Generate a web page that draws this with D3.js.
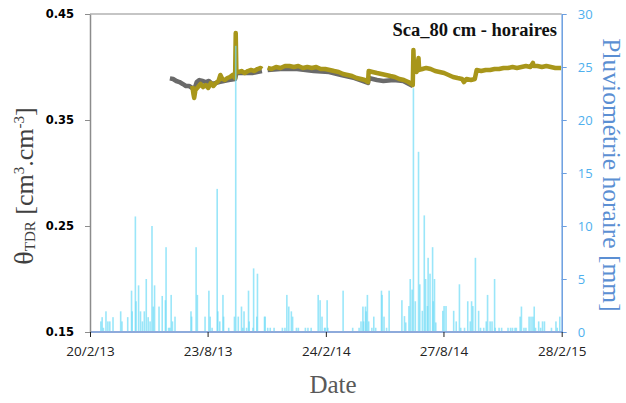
<!DOCTYPE html>
<html><head><meta charset="utf-8">
<script src="https://cdn.jsdelivr.net/npm/d3@7"></script>
<style>body{margin:0;background:#fff}svg{display:block}</style>
</head><body>
<svg id="c" width="626" height="403"></svg>
<script>
// ---- data ----
const xTickDates = ["2013-02-20","2013-08-23","2014-02-24","2014-08-27","2015-02-28"];
const yLeftTicks = [0.15,0.25,0.35,0.45];
const yRightTicks = [0,5,10,15,20,25,30];

const grayDates = ["2013-06-25","2013-06-30","2013-07-05","2013-07-10","2013-07-15","2013-07-20","2013-07-25","2013-07-30","2013-08-02","2013-08-06","2013-08-10","2013-08-15","2013-08-20","2013-08-25","2013-08-30","2013-09-10","2013-09-25","2013-10-05","2013-10-07","2013-10-15","2013-11-01","2013-11-16","2013-11-20","2013-11-25","2013-12-15","2014-01-10","2014-02-05","2014-03-01","2014-03-20","2014-04-10","2014-05-01","2014-05-02","2014-05-15","2014-05-25","2014-06-10","2014-06-25","2014-07-10"];
const grayValues = [0.3893,0.3887,0.3868,0.3858,0.3840,0.3821,0.3821,0.3802,0.3783,0.3858,0.3877,0.3868,0.3858,0.3868,0.3840,0.3858,0.3877,0.3887,0.3943,0.3943,0.3943,0.3962,null,0.3972,0.3981,0.3981,0.3962,0.3953,0.3925,0.3896,0.3849,0.3896,0.3877,0.3868,0.3877,0.3868,0.3821];

const oliveDates = ["2013-07-30","2013-08-01","2013-08-02","2013-08-04","2013-08-08","2013-08-12","2013-08-16","2013-08-20","2013-08-24","2013-08-28","2013-09-01","2013-09-05","2013-09-09","2013-09-12","2013-09-15","2013-09-19","2013-09-23","2013-09-27","2013-10-01","2013-10-05","2013-10-06","2013-10-07","2013-10-11","2013-10-15","2013-10-20","2013-10-25","2013-10-30","2013-11-04","2013-11-09","2013-11-14","2013-11-16","2013-11-20","2013-11-25","2013-12-01","2013-12-08","2013-12-15","2013-12-22","2013-12-29","2014-01-05","2014-01-12","2014-01-19","2014-01-26","2014-02-02","2014-02-09","2014-02-16","2014-02-23","2014-03-02","2014-03-09","2014-03-16","2014-03-23","2014-03-30","2014-04-06","2014-04-13","2014-04-20","2014-04-26","2014-05-01","2014-05-02","2014-05-08","2014-05-15","2014-05-22","2014-05-29","2014-06-05","2014-06-12","2014-06-19","2014-06-26","2014-07-03","2014-07-08","2014-07-10","2014-07-11","2014-07-12","2014-07-16","2014-07-19","2014-07-20","2014-07-25","2014-07-31","2014-08-07","2014-08-14","2014-08-21","2014-08-28","2014-09-04","2014-09-11","2014-09-18","2014-09-25","2014-09-28","2014-10-02","2014-10-09","2014-10-15","2014-10-18","2014-10-25","2014-11-01","2014-11-08","2014-11-15","2014-11-22","2014-11-29","2014-12-06","2014-12-13","2014-12-20","2014-12-27","2015-01-03","2015-01-10","2015-01-14","2015-01-15","2015-01-21","2015-01-28","2015-02-04","2015-02-11","2015-02-18","2015-02-27"];
const oliveValues = [0.3821,0.3740,0.3708,0.3783,0.3811,0.3840,0.3811,0.3830,0.3802,0.3849,0.3821,0.3849,0.3868,0.3925,0.3887,0.3877,0.3896,0.3906,0.3925,0.3896,0.4321,0.3953,0.3953,0.3962,0.3943,0.3962,0.3972,0.3962,0.3981,0.3991,0.3981,null,0.3991,0.3981,0.4000,0.3991,0.4009,0.4009,0.4000,0.4009,0.3991,0.4000,0.3991,0.4000,0.3981,0.3981,0.3972,0.3962,0.3953,0.3934,0.3925,0.3915,0.3896,0.3887,0.3877,0.3858,0.3962,0.3953,0.3943,0.3934,0.3925,0.3915,0.3906,0.3887,0.3877,0.3858,0.3840,0.3830,0.4160,0.3972,0.3953,0.4085,0.3972,0.3981,0.3991,0.3981,0.3962,0.3953,0.3943,0.3925,0.3906,0.3896,0.3887,0.3858,0.3887,0.3877,0.3887,0.3972,0.3962,0.3972,0.3972,0.3981,0.3981,0.3991,0.3991,0.4000,0.3991,0.4000,0.4009,0.4000,0.4038,0.4009,0.4009,0.4000,0.4009,0.4000,0.3991,0.3991];

const rainDates = ["2013-03-09","2013-03-11","2013-03-13","2013-03-17","2013-03-20","2013-03-23","2013-03-28","2013-04-09","2013-04-11","2013-04-20","2013-04-26","2013-04-27","2013-05-02","2013-05-03","2013-05-07","2013-05-10","2013-05-13","2013-05-16","2013-05-19","2013-05-22","2013-05-25","2013-05-28","2013-05-30","2013-06-01","2013-06-08","2013-06-13","2013-06-18","2013-06-19","2013-06-23","2013-06-25","2013-06-27","2013-06-29","2013-07-03","2013-07-28","2013-07-29","2013-08-05","2013-08-07","2013-08-19","2013-08-25","2013-08-27","2013-08-30","2013-09-07","2013-09-08","2013-09-11","2013-09-16","2013-09-17","2013-09-25","2013-10-04","2013-10-06","2013-10-10","2013-10-15","2013-10-17","2013-10-19","2013-10-23","2013-10-26","2013-10-27","2013-11-02","2013-11-03","2013-11-08","2013-11-09","2013-11-20","2013-11-21","2013-11-25","2013-11-29","2013-12-05","2013-12-18","2013-12-22","2013-12-25","2013-12-28","2014-01-01","2014-01-03","2014-01-09","2014-01-12","2014-01-23","2014-01-27","2014-02-01","2014-02-12","2014-02-15","2014-02-18","2014-02-22","2014-02-23","2014-02-26","2014-02-27","2014-03-23","2014-04-07","2014-04-17","2014-04-20","2014-04-23","2014-04-24","2014-04-27","2014-04-28","2014-04-30","2014-05-02","2014-05-07","2014-05-10","2014-05-13","2014-05-22","2014-05-23","2014-05-26","2014-05-30","2014-06-03","2014-06-23","2014-06-27","2014-06-29","2014-07-04","2014-07-06","2014-07-09","2014-07-11","2014-07-14","2014-07-19","2014-07-21","2014-07-25","2014-07-28","2014-07-30","2014-08-02","2014-08-03","2014-08-06","2014-08-10","2014-08-11","2014-08-13","2014-08-15","2014-08-26","2014-08-28","2014-08-31","2014-09-12","2014-09-16","2014-09-21","2014-09-23","2014-09-29","2014-10-04","2014-10-08","2014-10-10","2014-10-12","2014-10-16","2014-10-21","2014-10-24","2014-10-29","2014-11-02","2014-11-04","2014-11-08","2014-11-11","2014-11-15","2014-11-16","2014-11-22","2014-11-26","2014-12-06","2014-12-10","2014-12-13","2014-12-17","2014-12-19","2014-12-25","2014-12-27","2014-12-31","2015-01-03","2015-01-08","2015-01-11","2015-01-14","2015-01-16","2015-01-18","2015-01-23","2015-01-26","2015-01-29","2015-02-01","2015-02-12","2015-02-19","2015-02-21","2015-02-25"];
const rainValues = [1.0,1.4,0.4,1.95,1.0,1.0,1.4,1.95,1.0,1.4,3.9,1.95,10.9,2.9,4.4,1.95,1.0,1.95,5.0,1.4,1.0,10.0,2.4,4.4,2.4,3.4,3.0,8.0,0.4,0.4,3.5,1.0,1.45,1.95,1.45,8.0,3.5,1.45,3.9,1.45,0.4,13.5,1.95,1.0,3.5,1.45,0.4,1.45,27.0,1.45,2.4,0.4,1.95,0.4,3.9,1.0,0.4,6.0,1.45,5.5,1.45,1.45,0.4,0.4,0.4,0.4,0.4,3.5,2.4,1.95,1.45,0.4,0.4,0.4,0.4,0.4,3.5,3.0,1.45,0.4,0.4,3.0,0.4,3.9,0.4,0.4,1.0,2.4,1.0,2.4,1.95,3.5,1.0,0.4,1.45,0.4,3.9,3.5,1.45,0.4,3.9,3.0,1.5,0.9,2.45,5.0,4.0,23.0,2.9,17.0,4.5,2.0,11.0,5.0,2.45,7.0,5.5,8.0,2.9,5.0,0.9,2.0,2.45,2.45,2.0,1.0,4.5,0.4,0.4,2.9,1.0,2.9,2.45,7.0,2.0,0.4,0.4,1.0,3.5,1.0,1.0,5.0,0.4,0.4,0.4,0.4,0.4,0.4,0.4,0.4,1.45,2.4,0.4,0.4,1.45,1.45,1.45,2.4,0.4,1.0,0.4,1.0,1.0,0.4,1.0,0.4,1.45];

// ---- chart ----
const parse = d3.timeParse("%Y-%m-%d");
const svg = d3.select("#c");
const L = 90, R = 561.7, T = 14, B = 332;

const x = d3.scaleTime().domain([parse("2013-02-20"), parse("2015-02-28")]).range([L, R]);
const yL = d3.scaleLinear().domain([0.15, 0.45]).range([B, T]);
const yR = d3.scaleLinear().domain([0, 30]).range([B, T]);

// top border
svg.append("line").attr("x1", L).attr("x2", R).attr("y1", T).attr("y2", T)
  .attr("stroke", "#8c8c8c").attr("stroke-width", 1.2);

// soil moisture lines
const line = d3.line().defined(d => d[1] != null).x(d => x(d[0])).y(d => yL(d[1]));
const gray = grayDates.map((d, i) => [parse(d), grayValues[i]]);
const olive = oliveDates.map((d, i) => [parse(d), oliveValues[i]]);
svg.append("path").datum(gray).attr("d", line).attr("fill", "none")
  .attr("stroke", "#6a6a6a").attr("stroke-width", 4.5).attr("stroke-linejoin", "round");
svg.append("path").datum(olive).attr("d", line).attr("fill", "none")
  .attr("stroke", "#a8961a").attr("stroke-width", 4.5).attr("stroke-linejoin", "round");

// rainfall bars
const rain = rainDates.map((d, i) => [parse(d), rainValues[i]]);
svg.append("g").selectAll("rect").data(rain).join("rect")
  .attr("x", d => x(d[0]) - 0.8).attr("width", 1.6)
  .attr("y", d => yR(d[1])).attr("height", d => B - yR(d[1]))
  .attr("fill", "#6fdcf7").attr("opacity", 0.7);

// baseline
svg.append("line").attr("x1", L).attr("x2", R + 1).attr("y1", B).attr("y2", B)
  .attr("stroke", "#8eaadb").attr("stroke-width", 2);

// left axis
const gL = svg.append("g").attr("transform", `translate(${L},0)`)
  .call(d3.axisLeft(yL).tickValues(yLeftTicks).tickFormat(d3.format(".2f")).tickSize(5).tickSizeOuter(0).tickPadding(11));
gL.select(".domain").attr("stroke", "#8c8c8c").attr("stroke-width", 1.5);
gL.selectAll(".tick line").attr("stroke", "#8c8c8c");
gL.selectAll("text").attr("font-family", "DejaVu Sans").attr("font-weight", "bold")
  .attr("font-size", 11.5).attr("fill", "#000");

// right axis
const gR = svg.append("g").attr("transform", `translate(${R},0)`)
  .call(d3.axisRight(yR).tickValues(yRightTicks).tickSize(5).tickSizeOuter(0).tickPadding(11));
gR.select(".domain").attr("stroke", "#6a9ee0").attr("stroke-width", 1.5);
gR.selectAll(".tick line").attr("stroke", "#6a9ee0");
gR.selectAll("text").attr("font-family", "Open Sans").attr("font-size", 13).attr("fill", "#4fb0ee");

// bottom axis
const gB = svg.append("g").attr("transform", `translate(0,${B})`)
  .call(d3.axisBottom(x).tickValues(xTickDates.map(parse)).tickFormat(d3.timeFormat("%-d/%-m/%y")).tickSize(5).tickSizeOuter(0).tickPadding(9));
gB.select(".domain").remove();
gB.selectAll(".tick line").attr("stroke", "#222");
gB.selectAll("text").attr("font-family", "Open Sans").attr("font-size", 13.5).attr("fill", "#222");

// titles
svg.append("text").attr("x", 557).attr("y", 36).attr("text-anchor", "end")
  .attr("font-family", "Liberation Serif").attr("font-weight", "bold").attr("font-size", 18.5)
  .attr("fill", "#111").text("Sca_80 cm - horaires");

svg.append("text").attr("x", 333).attr("y", 393).attr("text-anchor", "middle")
  .attr("font-family", "Liberation Serif").attr("font-size", 25).attr("fill", "#595959").text("Date");

const tl = svg.append("text").attr("transform", "translate(33,186) rotate(-90)").attr("text-anchor", "middle")
  .attr("font-family", "Liberation Serif").attr("font-size", 26).attr("fill", "#404040");
tl.append("tspan").attr("font-size", 28).text("θ");
tl.append("tspan").attr("font-size", 15).attr("dy", 2).text("TDR");
tl.append("tspan").attr("dy", -2).text(" [cm");
tl.append("tspan").attr("font-size", 15).attr("dy", -9).text("3");
tl.append("tspan").attr("dy", 9).text(".cm");
tl.append("tspan").attr("font-size", 15).attr("dy", -9).text("-3");
tl.append("tspan").attr("dy", 9).text("]");

svg.append("text").attr("transform", "translate(603,175) rotate(90)").attr("text-anchor", "middle")
  .attr("font-family", "Liberation Serif").attr("font-size", 25.5).attr("fill", "#5b8fd3")
  .text("Pluviométrie horaire [mm]");
</script>
</body></html>
